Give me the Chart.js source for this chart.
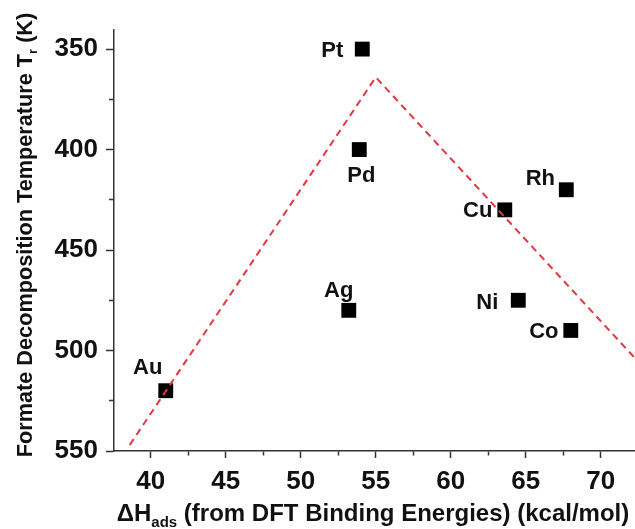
<!DOCTYPE html>
<html lang="en">
<head>
    <meta charset="UTF-8">
    <title>Formate Decomposition Temperature vs Binding Energy</title>
    <script src="https://cdn.jsdelivr.net/npm/chart.js"></script>
    <style>
        body { margin: 0; background: #fff; }
    </style>
</head>
<body>
    <canvas id="volcanoChart" width="635" height="529"></canvas>

    <script>
        // metals and their values
        const metals = ['Pt', 'Pd', 'Rh', 'Cu', 'Ag', 'Ni', 'Co', 'Au'];
        const bindingEnergy = [54.1, 53.9, 67.7, 63.6, 53.2, 64.5, 68.0, 41.0];   // kcal/mol
        const decompTemp = [350, 400, 420, 430, 480, 475, 490, 520];              // K

        // dashed volcano guide line
        const trendX = [38.6, 55.0, 72.3];
        const trendY = [547, 364, 504];

        const xTickLabels = [40, 45, 50, 55, 60, 65, 70];
        const yTickLabels = [350, 400, 450, 500, 550];

        // where each name sits relative to its square (px)
        const labelOffset = {
            Pt: [-30, 2], Pd: [2, 26], Rh: [-26, -11], Cu: [-27, 1],
            Ag: [-10, -19], Ni: [-31, 3], Co: [-27, 2], Au: [-18, -23]
        };

        const FONT = "'Liberation Sans', Arial, sans-serif";
        Chart.defaults.font.family = FONT;
        Chart.defaults.color = '#111';

        const points = metals.map((m, i) => ({ x: bindingEnergy[i], y: decompTemp[i] }));
        const trend = trendX.map((x, i) => ({ x: x, y: trendY[i] }));

        const labelsPlugin = {
            id: 'labels',
            afterDatasetsDraw(chart) {
                const ctx = chart.ctx;
                const meta = chart.getDatasetMeta(1);
                ctx.save();
                ctx.fillStyle = '#111';
                ctx.font = 'bold 22px ' + FONT;
                ctx.textAlign = 'center';
                ctx.textBaseline = 'middle';
                meta.data.forEach((pt, i) => {
                    const off = labelOffset[metals[i]];
                    ctx.fillText(metals[i], pt.x + off[0], pt.y + off[1]);
                });
                ctx.restore();
            },
            afterDraw(chart) {
                const ctx = chart.ctx;
                ctx.save();
                ctx.fillStyle = '#111';
                ctx.textBaseline = 'alphabetic';

                // x title with subscript
                const big = 'bold 24px ' + FONT, small = 'bold 15px ' + FONT;
                const p1 = '\u0394H', p2 = 'ads', p3 = ' (from DFT Binding Energies) (kcal/mol)';
                ctx.font = big; const w1 = ctx.measureText(p1).width, w3 = ctx.measureText(p3).width;
                ctx.font = small; const w2 = ctx.measureText(p2).width;
                let x = 373 - (w1 + w2 + w3) / 2;
                const base = 521;
                ctx.font = big; ctx.fillText(p1, x, base); x += w1;
                ctx.font = small; ctx.fillText(p2, x, base + 6); x += w2;
                ctx.font = big; ctx.fillText(p3, x, base);

                // y title with subscript, rotated
                ctx.translate(32, 235);
                ctx.rotate(-Math.PI / 2);
                const yb = 'bold 21.7px ' + FONT, ys = 'bold 13px ' + FONT;
                const q1 = 'Formate Decomposition Temperature T', q2 = 'r', q3 = ' (K)';
                ctx.font = yb; const v1 = ctx.measureText(q1).width, v3 = ctx.measureText(q3).width;
                ctx.font = ys; const v2 = ctx.measureText(q2).width;
                let t = -(v1 + v2 + v3) / 2;
                ctx.font = yb; ctx.fillText(q1, t, 0); t += v1;
                ctx.font = ys; ctx.fillText(q2, t, 5); t += v2;
                ctx.font = yb; ctx.fillText(q3, t, 0);
                ctx.restore();
            }
        };

        new Chart(document.getElementById('volcanoChart'), {
            type: 'scatter',
            data: {
                datasets: [{
                    type: 'line',
                    data: trend,
                    borderColor: '#e8343f',
                    borderWidth: 2,
                    borderDash: [7, 5],
                    pointRadius: 0,
                    fill: false
                }, {
                    data: points,
                    pointStyle: 'rect',
                    pointRadius: 10.5,
                    backgroundColor: '#000',
                    borderWidth: 0
                }]
            },
            options: {
                responsive: false,
                animation: false,
                layout: { autoPadding: false, padding: { top: 30, right: 0, left: 0, bottom: 0 } },
                plugins: { legend: { display: false }, tooltip: { enabled: false } },
                scales: {
                    x: {
                        type: 'linear',
                        min: 37.55,
                        max: 72.28,
                        afterFit: s => { s.height = 78; },
                        border: { display: true, color: '#333', width: 1.5 },
                        grid: {
                            drawOnChartArea: false,
                            tickLength: 7,
                            color: '#333',
                            tickWidth: 1.5,
                            tickBorderDash: c => xTickLabels.includes(c.tick.value) ? [] : [4, 20]
                        },
                        ticks: {
                            stepSize: 2.5,
                            includeBounds: false,
                            autoSkip: false,
                            maxRotation: 0,
                            padding: 8,
                            font: { size: 26, weight: 'bold' },
                            callback: v => xTickLabels.includes(v) ? v : ''
                        }
                    },
                    y: {
                        reverse: true,
                        min: 340.5,
                        max: 550,
                        afterFit: s => { s.width = 114; },
                        border: { display: true, color: '#333', width: 1.5 },
                        grid: {
                            drawOnChartArea: false,
                            tickLength: 8,
                            color: '#333',
                            tickWidth: 1.5,
                            tickBorderDash: c => yTickLabels.includes(c.tick.value) ? [] : [0, 3, 5, 20]
                        },
                        ticks: {
                            stepSize: 25,
                            includeBounds: false,
                            autoSkip: false,
                            padding: 8,
                            font: { size: 26, weight: 'bold' },
                            callback: v => yTickLabels.includes(v) ? v : ''
                        }
                    }
                }
            },
            plugins: [labelsPlugin]
        });
    </script>
</body>
</html>
